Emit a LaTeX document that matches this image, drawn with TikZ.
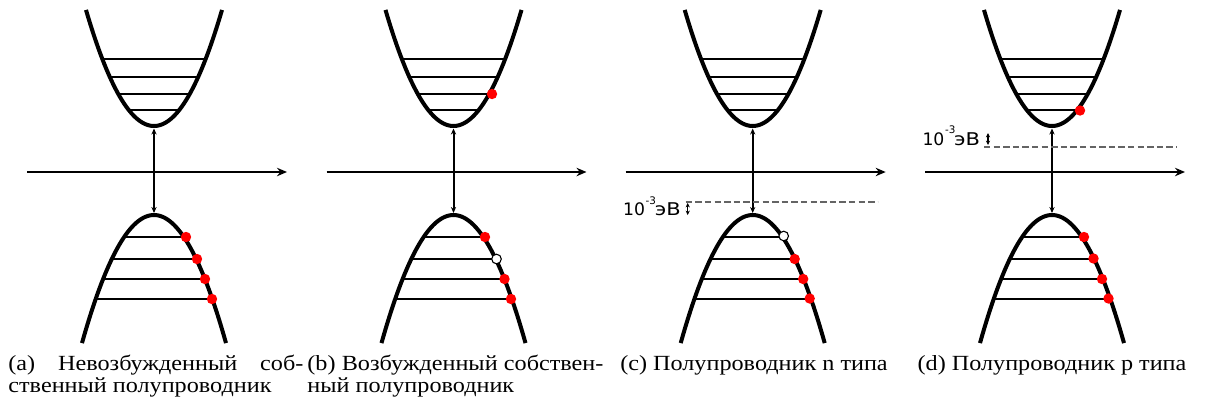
\documentclass[tikz,border=0pt]{standalone}
\usepackage{fontspec}
\usepackage{graphicx}
\setmainfont{Liberation Serif}[FakeStretch=1.12]
\newfontfamily\lblfont{DejaVu Sans}
\usetikzlibrary{arrows.meta}
\definecolor{dashgray}{RGB}{100,100,100}
\tikzset{
  band/.style={line width=2pt, line join=round},
  lev/.style={line width=1pt},
  axisline/.style={line width=1.3pt, -{Stealth[length=5pt,width=4.2pt]}},
  gaparrow/.style={line width=1pt, {Stealth[length=3pt,width=2.6pt]}-{Stealth[length=3pt,width=2.6pt]}},
  smallgap/.style={line width=0.6pt, {Stealth[length=2.2pt,width=2.1pt]}-{Stealth[length=2.2pt,width=2.1pt]}},
  impline/.style={line width=1pt, dashgray, dash pattern=on 3.2pt off 1.6pt},
  elec/.style={circle, fill=red, inner sep=0pt, minimum size=5.2pt},
  holec/.style={circle, fill=white, draw=black, line width=0.55pt, inner sep=0pt, minimum size=4.8pt},
  evlabel/.style={anchor=base east, inner sep=0pt, font=\lblfont},
  capt/.style={inner sep=0pt, font=\fontsize{10.8}{13}\selectfont}
}
\newcommand\evtext{\fontsize{8.6}{8.6}\selectfont 10\kern0.3pt\raisebox{5.6pt}{\fontsize{5.2}{5.2}\selectfont -3}\kern-0.6pt\scalebox{1.22}[1.02]{эВ}}
\newcommand\drawpanel[2]{%
  \begin{scope}[shift={(#1,0)}]
    \coordinate (#2axl) at (-127,172);
    \coordinate (#2axr) at (133,172);
    \draw[axisline] (#2axl) -- (#2axr);
    \draw[band] plot[domain=-68:68, samples=90] (\x,{126-0.0251*\x*\x});
    \foreach \yy in {59,77,94,110}
      \draw[lev] ({-sqrt((126-\yy)/0.0251)},\yy) -- ({sqrt((126-\yy)/0.0251)},\yy);
    \draw[band] plot[domain=-72:72, samples=90] (\x,{215+0.0247*\x*\x});
    \foreach \yy in {237,259,279,299}
      \draw[lev] ({-sqrt((\yy-215)/0.0247)},\yy) -- ({sqrt((\yy-215)/0.0247)},\yy);
    \coordinate (#2cb) at (0,128.5);
    \coordinate (#2vb) at (0,213);
    \draw[gaparrow] (#2vb) -- (#2cb);
  \end{scope}}
\begin{document}
\begin{tikzpicture}[x={(0.5pt,0)}, y={(0,-0.5pt)}]
\useasboundingbox (0,0) rectangle (1205,403);
\fill[white] (0,0) rectangle (1205,403);

% (a)
\drawpanel{154}{A}
\begin{scope}[shift={(154,0)}]
  \node[elec] (A1) at (32,237) {};
  \node[elec] (A2) at (43,259) {};
  \node[elec] (A3) at (51,279) {};
  \node[elec] (A4) at (58,299) {};
\end{scope}

% (b)
\drawpanel{453.5}{B}
\begin{scope}[shift={(453.5,0)}]
  \node[elec] (Bu) at (38.5,94) {};
  \node[elec] (B1) at (31.5,237) {};
  \node[holec] (B2) at (43,259) {};
  \node[elec] (B3) at (51,279) {};
  \node[elec] (B4) at (57.5,299) {};
\end{scope}

% (c)
\drawpanel{752.7}{C}
\begin{scope}[shift={(752.7,0)}]
  \coordinate (Cdl) at (-67,202);
  \coordinate (Cdr) at (125,202);
  \draw[impline] (Cdl) -- (Cdr);
  \coordinate (Cga) at (-65,203);
  \coordinate (Cgb) at (-65,215);
  \draw[smallgap] (Cga) -- (Cgb);
  \node[evlabel] (Clab) at (-71.5,215.5) {\evtext};
  \node[holec] (C1) at (31,236) {};
  \node[elec] (C2) at (42,259) {};
  \node[elec] (C3) at (50.5,279) {};
  \node[elec] (C4) at (57,298.5) {};
\end{scope}

% (d)
\drawpanel{1052}{D}
\begin{scope}[shift={(1052,0)}]
  \coordinate (Ddl) at (-68,147);
  \coordinate (Ddr) at (125,147);
  \draw[impline] (Ddl) -- (Ddr);
  \coordinate (Dga) at (-64,133);
  \coordinate (Dgb) at (-64,145);
  \draw[smallgap] (Dga) -- (Dgb);
  \node[evlabel] (Dlab) at (-71.5,145) {\evtext};
  \node[elec] (Du) at (28,110.5) {};
  \node[elec] (D1) at (32,237) {};
  \node[elec] (D2) at (41.5,258.5) {};
  \node[elec] (D3) at (50,279) {};
  \node[elec] (D4) at (56.5,298.5) {};
\end{scope}

% captions
\node[capt, anchor=base west] (capA1) at (8,370) {\makebox[147.5pt][s]{(a)\ Невозбужденный\ соб-}};
\node[capt, anchor=base west] (capA2) at (8,392) {ственный полупроводник};
\node[capt, anchor=base west] (capB1) at (307,370) {\makebox[148pt][s]{(b) Возбужденный собствен-}};
\node[capt, anchor=base west] (capB2) at (307,392) {ный полупроводник};
\node[capt, anchor=base] (capC) at (754,370) {(c) Полупроводник n типа};
\node[capt, anchor=base] (capD) at (1052,370) {(d) Полупроводник p типа};
\end{tikzpicture}
\end{document}
